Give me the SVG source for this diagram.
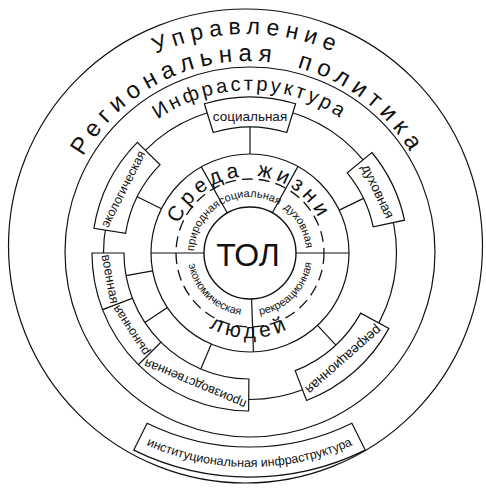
<svg xmlns="http://www.w3.org/2000/svg" width="486" height="488" viewBox="0 0 486 488">
<style>
.ln{fill:none;stroke:#111;stroke-width:1.2}
.tol{fill:none;stroke:#111;stroke-width:1.4}
.box{fill:#fff;stroke:#111;stroke-width:1.2}
.dash{fill:none;stroke:#111;stroke-width:1.3;stroke-dasharray:11 6}
text{font-family:"Liberation Sans",Arial,sans-serif;fill:#111}
.arc{text-anchor:middle}
.lab{font-size:13.5px;text-anchor:middle;dominant-baseline:central}
.in{font-size:11px;text-anchor:middle}
</style>
<defs>
<path id="pUpr" d="M59.9,142 A216,216 0 0 1 434.1,142"/>
<path id="pReg" d="M60.9,218 A190,190 0 0 1 435.1,218"/>
<path id="pInf" d="M98.8,196 A161,161 0 0 1 401.2,196"/>
<path id="pSr" d="M173,253.67 A77,77 0 0 1 326.97,250.98"/>
<path id="pLy" d="M170.1,282.1 A85,85 0 0 0 329.9,282.1"/>
<path id="pPri" d="M197.4,272.2 A56,56 0 0 1 240.3,197.9"/>
<path id="pSoc" d="M207.1,217 A56,56 0 0 1 292.9,217"/>
<path id="pDuh" d="M260.7,198 A56,56 0 0 1 302.3,273.1"/>
<path id="pRek" d="M244.6,315.3 A62.5,62.5 0 0 0 312.3,247.6"/>
<path id="pEko" d="M187.65,248.6 A62.5,62.5 0 0 0 256.5,315.2"/>
<path id="pIns" d="M71.3,393.2 A252,252 0 0 0 427.7,393.2"/>
</defs>
<rect width="486" height="488" fill="#fff"/>

<g id="rings">
<circle class="ln" cx="245.5" cy="246" r="237"/>
<circle class="ln" cx="250" cy="252" r="185"/>
<circle class="ln" cx="250" cy="253" r="146.5"/>
<circle class="ln" cx="250" cy="253" r="99"/>
<circle class="dash" cx="250" cy="253" r="74"/>
</g>

<g id="ring-labels">
<text class="arc" font-size="23" letter-spacing="6"><textPath href="#pUpr" startOffset="50%">Управление</textPath></text>
<text class="arc" font-size="24" letter-spacing="6" word-spacing="8"><textPath href="#pReg" startOffset="50%">Региональная политика</textPath></text>
<text class="arc" font-size="20" letter-spacing="3"><textPath href="#pInf" startOffset="50%">Инфраструктура</textPath></text>
</g>

<g id="connectors">
<line class="ln" x1="204" y1="253" x2="151" y2="253"/>
<line class="ln" x1="227.35" y1="212.96" x2="201.25" y2="166.83"/>
<line class="ln" x1="272.3" y1="212.77" x2="298" y2="166.41"/>
<line class="ln" x1="296" y1="253" x2="349" y2="253"/>
<line class="ln" x1="251.6" y1="299" x2="253.45" y2="351.94"/>
<line class="ln" x1="250" y1="154" x2="250" y2="127"/>
<line class="ln" x1="339.2" y1="210.1" x2="363.5" y2="198.4"/>
<line class="ln" x1="317.5" y1="325.4" x2="335.9" y2="345.2"/>
<line class="ln" x1="211.3" y1="344.1" x2="200.8" y2="369"/>
<line class="ln" x1="167.4" y1="307.6" x2="144.9" y2="322.5"/>
<line class="ln" x1="152.6" y1="270.9" x2="126.1" y2="275.7"/>
<line class="ln" x1="161.4" y1="208.8" x2="137.2" y2="196.8"/>
</g>

<g id="tol">
<circle class="tol" cx="250" cy="253" r="46"/>
<text x="248" y="265.5" font-size="32" text-anchor="middle">ТОЛ</text>
</g>

<g id="sreda">
<text class="arc" font-size="21" letter-spacing="4.5" word-spacing="3"><textPath href="#pSr" startOffset="50%">Среда жизни</textPath></text>
<text class="arc" font-size="21" letter-spacing="4.5"><textPath href="#pLy" startOffset="50%">людей</textPath></text>
</g>

<g id="inner-sectors">
<text class="in"><textPath href="#pPri" startOffset="50%">природная</textPath></text>
<text class="in"><textPath href="#pSoc" startOffset="50%">социальная</textPath></text>
<text class="in"><textPath href="#pDuh" startOffset="50%">духовная</textPath></text>
<text class="in"><textPath href="#pRek" startOffset="50%">рекреационная</textPath></text>
<text class="in"><textPath href="#pEko" startOffset="50%">экономическая</textPath></text>
</g>

<g id="box-social">
<path class="box" d="M204.4,103.8 A156,156 0 0 1 295.6,103.8 L286.8,132.5 A126,126 0 0 0 213.2,132.5 Z"/>
<text class="lab" transform="translate(250,116.5)">социальная</text>
</g>
<g id="box-spiritual">
<path class="box" d="M371.9,152.5 A158,158 0 0 1 404.5,220.2 L373.2,226.8 A126,126 0 0 0 347.2,172.9 Z"/>
<text class="lab" transform="translate(377.9,191.3) rotate(64.25)">духовная</text>
</g>
<g id="box-recreation">
<path class="box" d="M388.9,328.4 A158,158 0 0 1 306.6,400.5 L295.2,370.6 A126,126 0 0 0 360.7,313.1 Z"/>
<text class="lab" transform="translate(343.6,359.8) rotate(138.75)">рекреационная</text>
</g>
<g id="box-production">
<path class="box" d="M248.6,411 A158,158 0 0 1 138.3,364.7 L160.9,342.1 A126,126 0 0 0 248.9,379 Z"/>
<text class="lab" style="font-size:12.8px" transform="translate(195.1,384) rotate(202.75)">производственная</text>
</g>
<g id="box-market">
<path class="box" d="M138.3,364.7 A158,158 0 0 1 102.5,309.6 L132.4,298.2 A126,126 0 0 0 160.9,342.1 Z"/>
<text class="lab" style="font-size:12.5px" transform="translate(130.9,330.3) rotate(237)">рыночная</text>
</g>
<g id="box-military">
<path class="box" d="M102.5,309.6 A158,158 0 0 1 92,253 L124,253 A126,126 0 0 0 132.4,298.2 Z"/>
<text class="lab" style="font-size:13px" transform="translate(110.4,278.9) rotate(79.5)">военная</text>
</g>
<g id="box-ecology">
<path class="box" d="M93.9,228.3 A158,158 0 0 1 137.3,142.3 L160.1,164.7 A126,126 0 0 0 125.6,233.3 Z"/>
<text class="lab" style="font-size:12.5px" transform="translate(123.2,189.1) rotate(-63.25)">экологическая</text>
</g>
<g id="box-institutional">
<path class="box" d="M133.8,450.1 A262,262 0 0 0 365.2,450.1 L351.9,423.2 A232,232 0 0 1 147.1,423.2 Z"/>
<text class="arc" font-size="12.5"><textPath href="#pIns" startOffset="50%">институциональная инфраструктура</textPath></text>
</g>
</svg>
